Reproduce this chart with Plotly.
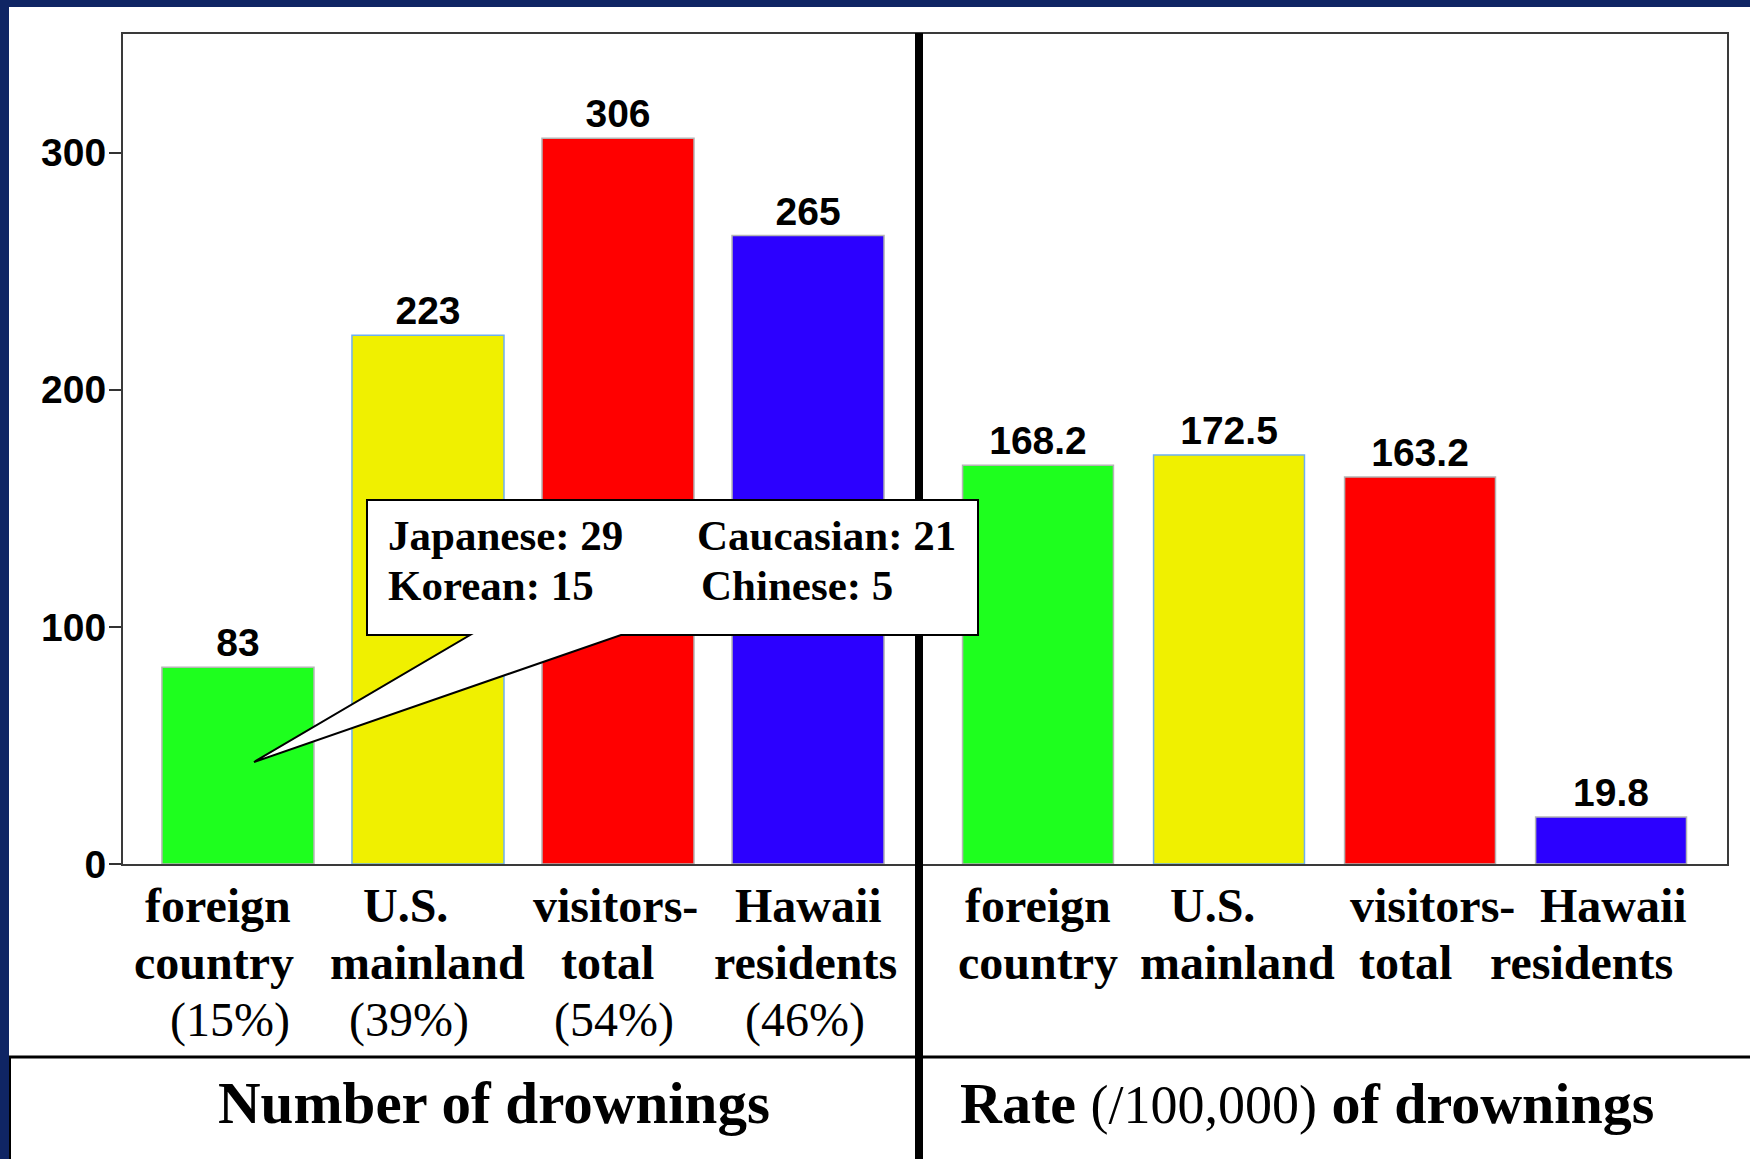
import plotly.graph_objects as go

W, H = 1750, 1159

# ---------------- data ----------------
categories = ["foreign country", "U.S. mainland", "visitors-total", "Hawaii residents"]
label_top = ["foreign", "U.S.", "visitors-", "Hawaii"]
label_bottom = ["country", "mainland", "total", "residents"]
shares = ["(15%)", "(39%)", "(54%)", "(46%)"]
drowning_counts = [83, 223, 306, 265]
drowning_rates = [168.2, 172.5, 163.2, 19.8]
count_ticks = [0, 100, 200, 300]
ethnic_groups = ["Japanese", "Korean", "Caucasian", "Chinese"]
ethnic_counts = [29, 15, 21, 5]
bar_colors = ["#1EFF1E", "#F0F000", "#FF0000", "#2C00FF"]
edge_colors = ["#B4B4B4", "#6EB0F0", "#B4B4B4", "#B4B4B4"]


def px(x):
    return x / W


def py(y):
    return 1 - y / H


SERIF = "Liberation Serif"
SANS = "Liberation Sans"

fig = go.Figure()
fig.add_trace(go.Bar(
    x=categories, y=drowning_counts, xaxis="x", yaxis="y",
    marker=dict(color=bar_colors, line=dict(color=edge_colors, width=1.5)),
    width=0.8, texttemplate="%{y}", textposition="outside", constraintext="none",
    textfont=dict(family=SANS, size=39, color="black", weight="bold"),
    cliponaxis=False, showlegend=False, hoverinfo="skip",
))
fig.add_trace(go.Bar(
    x=categories, y=drowning_rates, xaxis="x2", yaxis="y2",
    marker=dict(color=bar_colors, line=dict(color=edge_colors, width=1.5)),
    width=0.79, texttemplate="%{y}", textposition="outside", constraintext="none",
    textfont=dict(family=SANS, size=39, color="black", weight="bold"),
    cliponaxis=False, showlegend=False, hoverinfo="skip",
))

frame = dict(showline=True, linecolor="#3a3a3a", linewidth=2, mirror=True, showgrid=False, zeroline=False)
plot_bottom, plot_top = 864, 34

fig.update_layout(
    autosize=True, margin=dict(l=0, r=0, t=0, b=0, autoexpand=False),
    paper_bgcolor="#0F2564", plot_bgcolor="white",
    xaxis=dict(domain=[px(123), px(919)], range=[-0.605, 3.584], type="category",
               showticklabels=False, ticks="", anchor="y", fixedrange=True, **frame),
    yaxis=dict(domain=[py(plot_bottom), py(plot_top)], range=[0, 350], tickvals=count_ticks,
               ticks="outside", ticklen=12, tickwidth=2, tickcolor="#333333",
               tickfont=dict(family=SANS, size=39, color="black", weight="bold"),
               ticklabelstandoff=-5, anchor="x", fixedrange=True, **frame),
    xaxis2=dict(domain=[px(919), px(1727)], range=[-0.623, 3.607], type="category",
                showticklabels=False, ticks="", anchor="y2", fixedrange=True, **frame),
    yaxis2=dict(domain=[py(plot_bottom), py(plot_top)], range=[0, 350], showticklabels=False,
                ticks="", anchor="x2", fixedrange=True, **frame),
)

shapes = [
    # white slide area
    dict(type="rect", xref="paper", yref="paper", x0=px(9), x1=1, y0=0, y1=py(7),
         fillcolor="white", line=dict(width=0), layer="below"),
    # thick divider
    dict(type="line", xref="paper", yref="paper", x0=px(919), x1=px(919), y0=py(33), y1=0,
         line=dict(color="black", width=8), layer="above"),
    # horizontal divider
    dict(type="line", xref="paper", yref="paper", x0=px(9), x1=1, y0=py(1057), y1=py(1057),
         line=dict(color="black", width=3), layer="above"),
    # left border of bottom box
    dict(type="line", xref="paper", yref="paper", x0=px(10), x1=px(10), y0=py(1057), y1=0,
         line=dict(color="black", width=2), layer="above"),
]

# callout box with pointer
pts = [(367, 500), (978, 500), (978, 635), (621, 635), (254, 762), (470, 635), (367, 635)]
path = "M " + " L ".join(f"{px(x):.5f},{py(y):.5f}" for x, y in pts) + " Z"
shapes.append(dict(type="path", xref="paper", yref="paper", path=path,
                   fillcolor="white", line=dict(color="black", width=2), layer="above"))
fig.update_layout(shapes=shapes)

annotations = []
# category labels (three rows under the left panel, two under the right one)
row_y = [905, 962, 1020]
left_shift_top = [-20, -22, -3, 0]
left_shift_bot = [-24, 0, -11, -3]
left_shift_share = [-8, -19, -4, -3]
right_shift_top = [0, -17, 12, 2]
right_shift_bot = [0, 8, -15, -30]
lab_font_b = dict(family=SERIF, size=48, color="black", weight="bold")
lab_font_r = dict(family=SERIF, size=48, color="black")
for i, cat in enumerate(categories):
    annotations.append(dict(xref="x", yref="paper", x=cat, y=py(row_y[0]), yanchor="middle",
                            text=label_top[i], showarrow=False, font=lab_font_b, xshift=left_shift_top[i]))
    annotations.append(dict(xref="x", yref="paper", x=cat, y=py(row_y[1]), yanchor="middle",
                            text=label_bottom[i], showarrow=False, font=lab_font_b, xshift=left_shift_bot[i]))
    annotations.append(dict(xref="x", yref="paper", x=cat, y=py(row_y[2]), yanchor="middle",
                            text=shares[i], showarrow=False, font=lab_font_r, xshift=left_shift_share[i]))
    annotations.append(dict(xref="x2", yref="paper", x=cat, y=py(row_y[0]), yanchor="middle",
                            text=label_top[i], showarrow=False, font=lab_font_b, xshift=right_shift_top[i]))
    annotations.append(dict(xref="x2", yref="paper", x=cat, y=py(row_y[1]), yanchor="middle",
                            text=label_bottom[i], showarrow=False, font=lab_font_b, xshift=right_shift_bot[i]))

callout_pos = [(386, 535), (386, 585), (695, 535), (699, 585)]
for name, cnt, (x, y) in zip(ethnic_groups, ethnic_counts, callout_pos):
    annotations.append(dict(xref="paper", yref="paper", x=px(x), y=py(y), xanchor="left", yanchor="middle",
                            text=f"<b>{name}: {cnt}</b>", showarrow=False,
                            font=dict(family=SERIF, size=43, color="black")))
annotations.append(dict(xref="paper", yref="paper", x=px(494), y=py(1103), xanchor="center", yanchor="middle",
                        text="<b>Number of drownings</b>", showarrow=False,
                        font=dict(family=SERIF, size=59, color="black")))
annotations.append(dict(xref="paper", yref="paper", x=px(958), y=py(1103), xanchor="left", yanchor="middle",
                        text="<b>Rate</b> <span style='font-size:54px'>(/100,000)</span> <b>of drownings</b>",
                        showarrow=False, font=dict(family=SERIF, size=58, color="black")))
fig.update_layout(annotations=annotations)

fig.write_html(
    "out.html",
    default_width="100vw", default_height="100vh",
    config={"displayModeBar": False},
    post_script=("document.documentElement.style.margin='0px';"
                 "document.body.style.margin='0px';document.body.style.overflow='hidden';"
                 "Plotly.Plots.resize(document.getElementById('{plot_id}'));"),
)
